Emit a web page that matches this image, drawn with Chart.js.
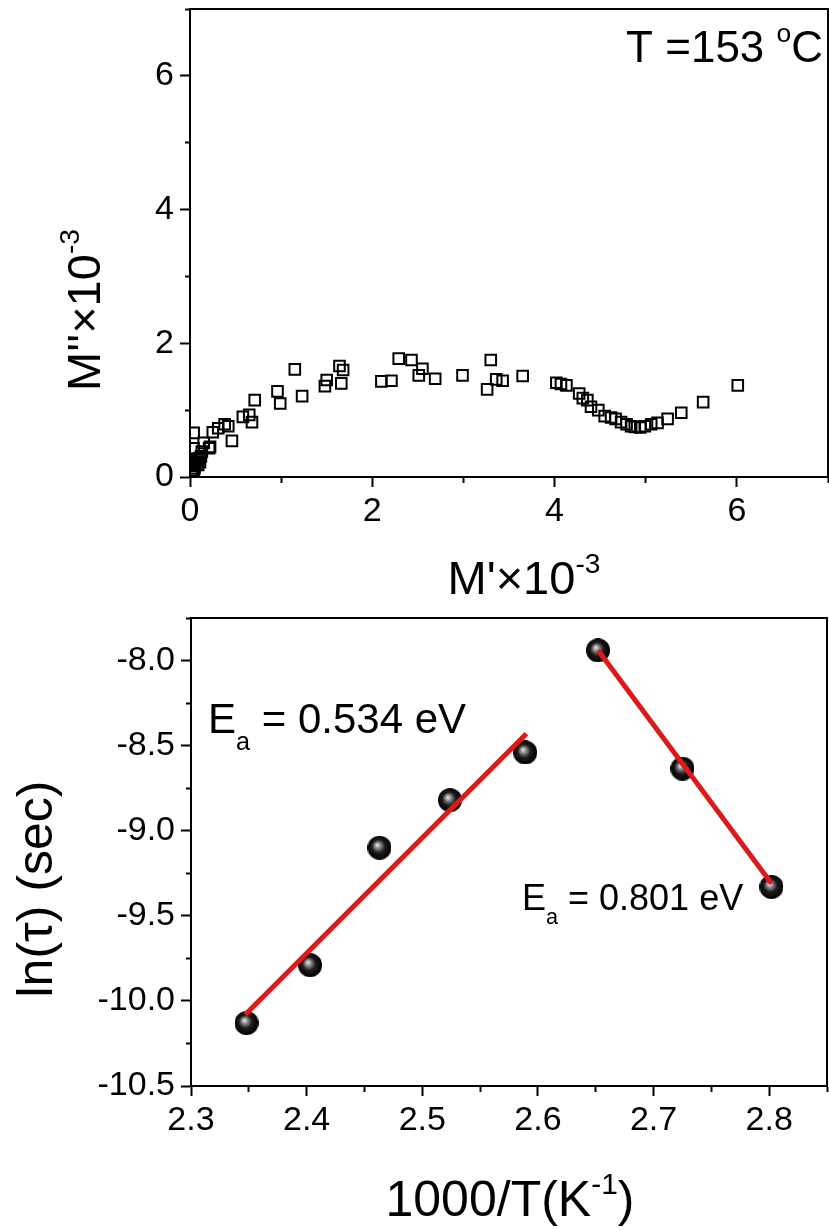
<!DOCTYPE html>
<html>
<head>
<meta charset="utf-8">
<script src="https://cdn.jsdelivr.net/npm/chart.js@4.4.0/dist/chart.umd.min.js"></script>
<style>
body { margin: 0; background: #fff; width: 829px; height: 1230px; position: relative; overflow: hidden; }
canvas { position: absolute; left: 0; }
#topChart { top: 0; }
#botChart { top: 605px; }
</style>
</head>
<body>
<canvas id="topChart" width="829" height="605"></canvas>
<canvas id="botChart" width="829" height="625"></canvas>
<script>
// modulus plot at T = 153 C (M' and M'' x 10^-3)
const mPrime = [0.02, 0.03, 0.04, 0.05, 0.05, 0.06, 0.07, 0.08, 0.09, 0.10, 0.11, 0.12, 0.04, 0.15, 0.13, 0.21, 0.22,
  0.04, 0.25, 0.31, 0.38, 0.42, 0.46, 0.58, 0.65, 0.68, 0.71, 0.96, 0.99, 1.15, 1.23, 1.48, 1.50, 1.64, 1.66, 1.68,
  2.10, 2.21, 2.29, 2.43, 2.51, 2.55, 2.69, 2.99, 3.30, 3.26, 3.36, 3.43, 3.65, 4.02, 4.07, 4.13, 4.27, 4.31, 4.36,
  4.40, 4.48, 4.55, 4.62, 4.67, 4.73, 4.79, 4.84, 4.88, 4.94, 4.99, 5.06, 5.13, 5.24, 5.39, 5.63, 6.01]
const mDouble = [0.03, 0.07, 0.10, 0.13, 0.17, 0.20, 0.23, 0.26, 0.18, 0.28, 0.22, 0.31, 0.43, 0.51, 0.38, 0.43, 0.45,
  0.66, 0.67, 0.73, 0.79, 0.76, 0.54, 0.90, 0.93, 0.82, 1.15, 1.28, 1.10, 1.61, 1.21, 1.36, 1.45, 1.66, 1.40, 1.60,
  1.43, 1.44, 1.77, 1.75, 1.52, 1.62, 1.47, 1.52, 1.75, 1.31, 1.46, 1.44, 1.51, 1.41, 1.39, 1.37, 1.25, 1.18, 1.15,
  1.05, 1.00, 0.91, 0.89, 0.87, 0.82, 0.79, 0.76, 0.75, 0.74, 0.76, 0.79, 0.81, 0.87, 0.96, 1.12, 1.37]

// Arrhenius plot
const invT = [2.348, 2.403, 2.463, 2.524, 2.589, 2.652, 2.725, 2.802]
const lnTau = [-10.13, -9.79, -9.10, -8.82, -8.54, -7.94, -8.635, -9.33]
const fit1X = [2.347, 2.590]
const fit1Y = [-10.08, -8.43]
const fit2X = [2.652, 2.802]
const fit2Y = [-7.94, -9.31]

const FONT = '"Liberation Sans", Arial, sans-serif'
Chart.defaults.font.family = FONT
Chart.defaults.color = '#000'

// text with super/subscripts
function richText(ctx, parts, x, y, size, align, rot) {
  ctx.save()
  ctx.translate(x, y)
  if (rot) ctx.rotate(rot)
  ctx.textBaseline = 'alphabetic'
  ctx.textAlign = 'left'
  let w = 0
  parts.forEach(p => {
    p.fs = p[1] ? size * 0.6 : size
    ctx.font = p.fs + 'px ' + FONT
    p.w = ctx.measureText(p[0]).width
    w += p.w
  })
  let cx = align == 'center' ? -w / 2 : align == 'right' ? -w : 0
  parts.forEach(p => {
    ctx.font = p.fs + 'px ' + FONT
    let dy = p[1] == 'sup' ? -size * 0.45 : p[1] == 'sub' ? size * 0.4 : 0
    ctx.fillText(p[0], cx, dy)
    cx += p.w
  })
  ctx.restore()
}

const textPlugin = {
  id: 'texts',
  afterDraw(chart, args, opts) {
    const ctx = chart.ctx
    ctx.fillStyle = '#000'
    opts.items.forEach(it => richText(ctx, it.parts, it.x, it.y, it.size, it.align, it.rot))
  }
}

// top and right side of the box
const framePlugin = {
  id: 'frame',
  afterDraw(chart) {
    const { top, right, bottom, left } = chart.chartArea
    const ctx = chart.ctx
    ctx.save()
    ctx.strokeStyle = '#000'
    ctx.lineWidth = 2
    ctx.beginPath()
    ctx.moveTo(left, top)
    ctx.lineTo(right, top)
    ctx.lineTo(right, bottom)
    ctx.stroke()
    ctx.restore()
  }
}

function axis(pos, min, max, step, isMajor, fmt, size) {
  return {
    type: 'linear', position: pos, min: min, max: max,
    afterFit: s => {
      if (pos == 'left') s.width = size; else s.height = size
      s.paddingTop = s.paddingBottom = s.paddingLeft = s.paddingRight = 0
    },
    ticks: {
      stepSize: step, autoSkip: false, maxRotation: 0,
      font: { size: 34 }, color: '#000', padding: pos == 'left' ? 6 : 4,
      callback: v => isMajor(v) ? fmt(v) : ''
    },
    grid: {
      drawOnChartArea: false, tickLength: 10, tickWidth: 2, tickColor: '#000',
      tickBorderDash: c => isMajor(c.tick.value) ? [] : (pos == 'left' ? [0, 5, 5, 50] : [5, 50])
    },
    border: { color: '#000', width: 2 }
  }
}

// sphere marker
function makeBall(d) {
  const c = document.createElement('canvas')
  c.width = c.height = d
  const g = c.getContext('2d')
  const r = d / 2
  const grad = g.createRadialGradient(r * 0.8, r * 0.75, 0, r, r, r)
  grad.addColorStop(0, '#f4f4f4')
  grad.addColorStop(0.25, '#8a8a8a')
  grad.addColorStop(0.55, '#1c1c1c')
  grad.addColorStop(1, '#000')
  g.fillStyle = grad
  g.beginPath()
  g.arc(r, r, r, 0, Math.PI * 2)
  g.fill()
  return c
}

new Chart(document.getElementById('topChart'), {
  type: 'scatter',
  data: {
    datasets: [{
      data: mPrime.map((v, i) => ({ x: v, y: mDouble[i] })),
      pointStyle: 'rect', pointRadius: 7.5, borderWidth: 2,
      borderColor: '#000', backgroundColor: 'rgba(255,255,255,0)'
    }]
  },
  options: {
    responsive: false, animation: false,
    layout: { autoPadding: false, padding: { top: 9, right: 1, left: 0, bottom: 0 } },
    plugins: {
      legend: { display: false }, tooltip: { enabled: false },
      texts: {
        items: [
          { parts: [["M''×10"], ['-3', 'sup']], x: 100, y: 310, size: 47, align: 'center', rot: -Math.PI / 2 },
          { parts: [["M'×10"], ['-3', 'sup']], x: 524, y: 594, size: 47, align: 'center' },
          { parts: [['T =153 '], ['o', 'sup'], ['C']], x: 823, y: 62, size: 44, align: 'right' }
        ]
      }
    },
    scales: {
      x: axis('bottom', 0, 7, 1, v => v % 2 == 0, v => String(v), 128),
      y: axis('left', 0, 7, 1, v => v % 2 == 0, v => String(v), 190)
    }
  },
  plugins: [framePlugin, textPlugin]
})

const ball = makeBall(24)
new Chart(document.getElementById('botChart'), {
  type: 'scatter',
  data: {
    datasets: [
      {
        type: 'line', data: fit1X.map((v, i) => ({ x: v, y: fit1Y[i] })),
        borderColor: '#db1b1b', borderWidth: 5, pointRadius: 0, order: 1
      },
      {
        type: 'line', data: fit2X.map((v, i) => ({ x: v, y: fit2Y[i] })),
        borderColor: '#db1b1b', borderWidth: 5, pointRadius: 0, order: 1
      },
      {
        data: invT.map((v, i) => ({ x: v, y: lnTau[i] })),
        pointStyle: ball, pointRadius: 12, order: 2
      }
    ]
  },
  options: {
    responsive: false, animation: false,
    layout: { autoPadding: false, padding: { top: 13, right: 2, left: 0, bottom: 0 } },
    plugins: {
      legend: { display: false }, tooltip: { enabled: false },
      texts: {
        items: [
          { parts: [['ln(τ) (sec)']], x: 52, y: 284, size: 50, align: 'center', rot: -Math.PI / 2 },
          { parts: [['1000/T(K'], ['-1', 'sup'], [')']], x: 510, y: 611, size: 50, align: 'center' },
          { parts: [['E'], ['a', 'sub'], [' = 0.534 eV']], x: 208, y: 128, size: 42, align: 'left' },
          { parts: [['E'], ['a', 'sub'], [' = 0.801 eV']], x: 522, y: 305, size: 36, align: 'left' }
        ]
      }
    },
    scales: {
      x: axis('bottom', 2.3, 2.85, 0.05, v => Math.abs(v * 10 - Math.round(v * 10)) < 1e-6, v => v.toFixed(1), 144),
      y: axis('left', -10.5, -7.75, 0.25, v => Math.abs(v * 2 - Math.round(v * 2)) < 1e-6, v => v.toFixed(1), 191)
    }
  },
  plugins: [framePlugin, textPlugin]
})
</script>
</body>
</html>
